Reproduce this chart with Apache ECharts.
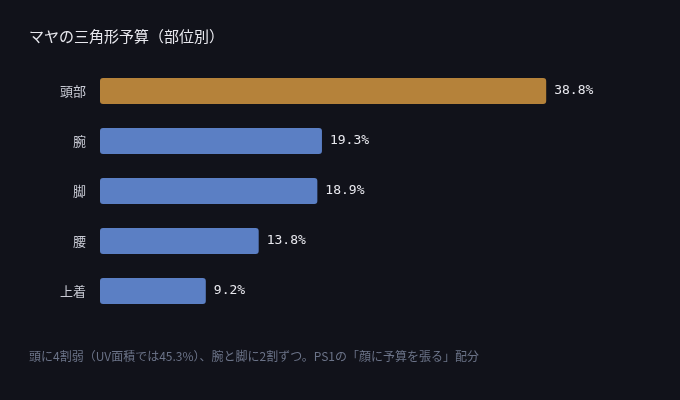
<!DOCTYPE html>
<html><head><meta charset="utf-8">
<script src="https://cdn.jsdelivr.net/npm/echarts@6/dist/echarts.min.js"></script>
<style>html,body{margin:0;padding:0;background:#11121a}#c{width:680px;height:400px}</style>
</head><body><div id="c"></div>
<script>
const categories = ['頭部','腕','脚','腰','上着'];
const values = [38.8, 19.3, 18.9, 13.8, 9.2];
const highlightIndex = 0;
const title = 'マヤの三角形予算（部位別）';
const note = '頭に4割弱（UV面積では45.3%）、腕と脚に2割ずつ。PS1の「顔に予算を張る」配分';
const chart = echarts.init(document.getElementById('c'));
chart.setOption({
  backgroundColor: '#11121a',
  animation: false,
  title: [
    {text: title, left: 24, top: 24, textStyle: {color: '#e8e8ee', fontSize: 15, fontWeight: 'normal', fontFamily: 'Noto Sans CJK JP'}},
    {text: note, left: 24, top: 345, textStyle: {color: '#6b7388', fontSize: 12, fontWeight: 'normal', fontFamily: 'Noto Sans CJK JP'}}
  ],
  grid: {left: 100, top: 66, width: 460, height: 250},
  xAxis: {type: 'value', min: 0, max: 40, show: false},
  yAxis: {type: 'category', data: categories, inverse: true,
    axisLine: {show: false}, axisTick: {show: false},
    axisLabel: {color: '#c8cad4', fontSize: 13, margin: 14, fontFamily: 'Noto Sans CJK JP'}},
  series: [{
    type: 'bar', barWidth: 26,
    data: values.map((v, i) => ({value: v, itemStyle: {color: i === highlightIndex ? '#b5823a' : '#5b7fc4', borderRadius: 3}})),
    label: {show: true, position: 'right', distance: 8, formatter: p => p.value.toFixed(1) + '%',
      color: '#e8e8ee', fontSize: 13, fontFamily: 'DejaVu Sans Mono'}
  }]
});
</script></body></html>
